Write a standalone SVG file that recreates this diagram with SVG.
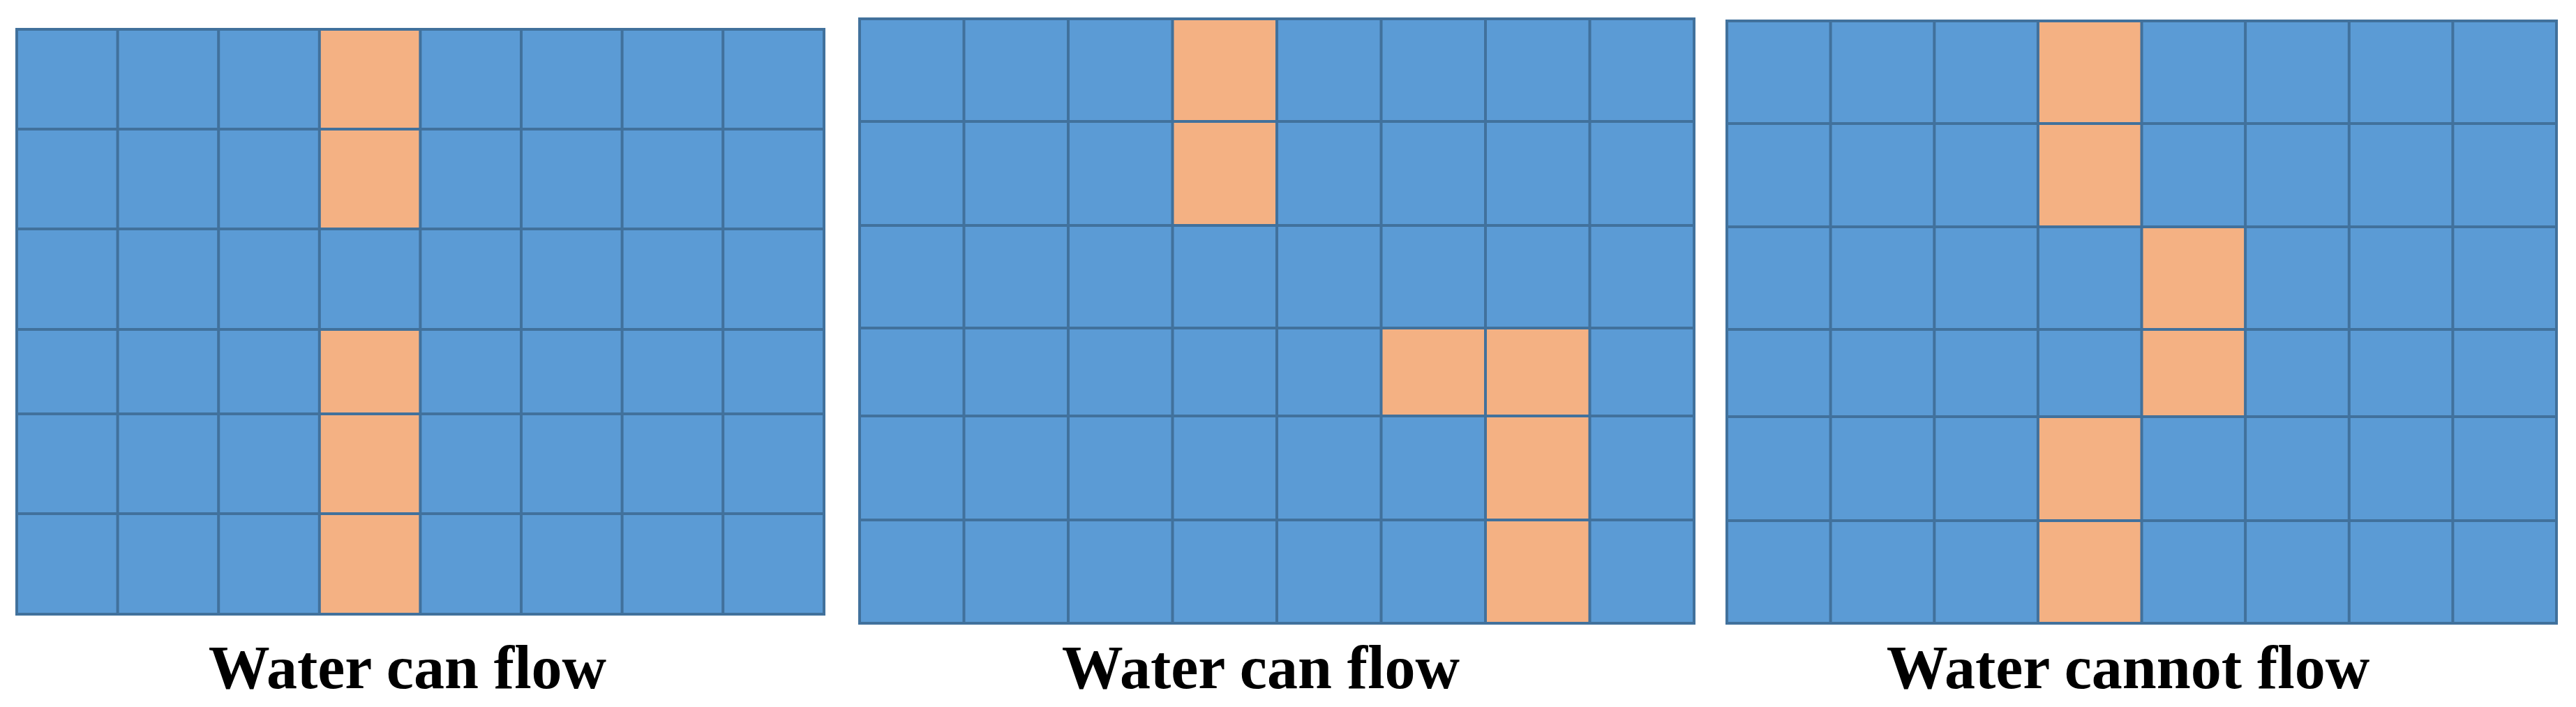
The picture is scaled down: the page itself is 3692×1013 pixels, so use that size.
<svg xmlns="http://www.w3.org/2000/svg" width="3692" height="1013" viewBox="0 0 3692 1013">
  <style>
    .bg { fill: #5B9BD5; }
    .hot { fill: #F4B183; }
    .grid { fill: none; stroke: #41719C; stroke-width: 4; }
    .cap { font-family: "Liberation Serif", "Times New Roman", serif; font-weight: bold; font-size: 88px; fill: #000; text-anchor: middle; }
  </style>
  <rect x="0" y="0" width="3692" height="1013" fill="#FFFFFF"/>

  <g id="panel-1">
    <rect class="bg" x="24" y="42" width="1157" height="838"/>
    <rect class="hot" x="457.8" y="42" width="144.6" height="286"/>
    <rect class="hot" x="457.8" y="472" width="144.6" height="408"/>
    <path class="grid" d="M168.6 42V880M313.2 42V880M457.8 42V880M602.4 42V880M747 42V880M891.6 42V880M1036.2 42V880M24 185H1181M24 328H1181M24 472H1181M24 593H1181M24 736H1181"/>
    <rect class="grid" x="24" y="42" width="1157" height="838"/>
    <text class="cap" x="584" y="986">Water can flow</text>
  </g>

  <g id="panel-2">
    <rect class="bg" x="1232" y="27" width="1196" height="866"/>
    <rect class="hot" x="1680.5" y="27" width="149.5" height="296"/>
    <rect class="hot" x="1979.5" y="470" width="299" height="126"/>
    <rect class="hot" x="2129" y="596" width="149.5" height="297"/>
    <path class="grid" d="M1381.5 27V893M1531 27V893M1680.5 27V893M1830 27V893M1979.5 27V893M2129 27V893M2278.5 27V893M1232 174H2428M1232 323H2428M1232 470H2428M1232 596H2428M1232 745H2428"/>
    <rect class="grid" x="1232" y="27" width="1196" height="866"/>
    <text class="cap" x="1807" y="986">Water can flow</text>
  </g>

  <g id="panel-3">
    <rect class="bg" x="2475" y="30" width="1189" height="863"/>
    <rect class="hot" x="2920.9" y="30" width="148.6" height="295"/>
    <rect class="hot" x="3069.5" y="325" width="148.6" height="272"/>
    <rect class="hot" x="2920.9" y="597" width="148.6" height="296"/>
    <path class="grid" d="M2623.6 30V893M2772.3 30V893M2920.9 30V893M3069.5 30V893M3218.1 30V893M3366.8 30V893M3515.4 30V893M2475 177H3664M2475 325H3664M2475 472H3664M2475 597H3664M2475 746H3664"/>
    <rect class="grid" x="2475" y="30" width="1189" height="863"/>
    <text class="cap" x="3050" y="986">Water cannot flow</text>
  </g>

  <g id="connectors"></g>
</svg>
